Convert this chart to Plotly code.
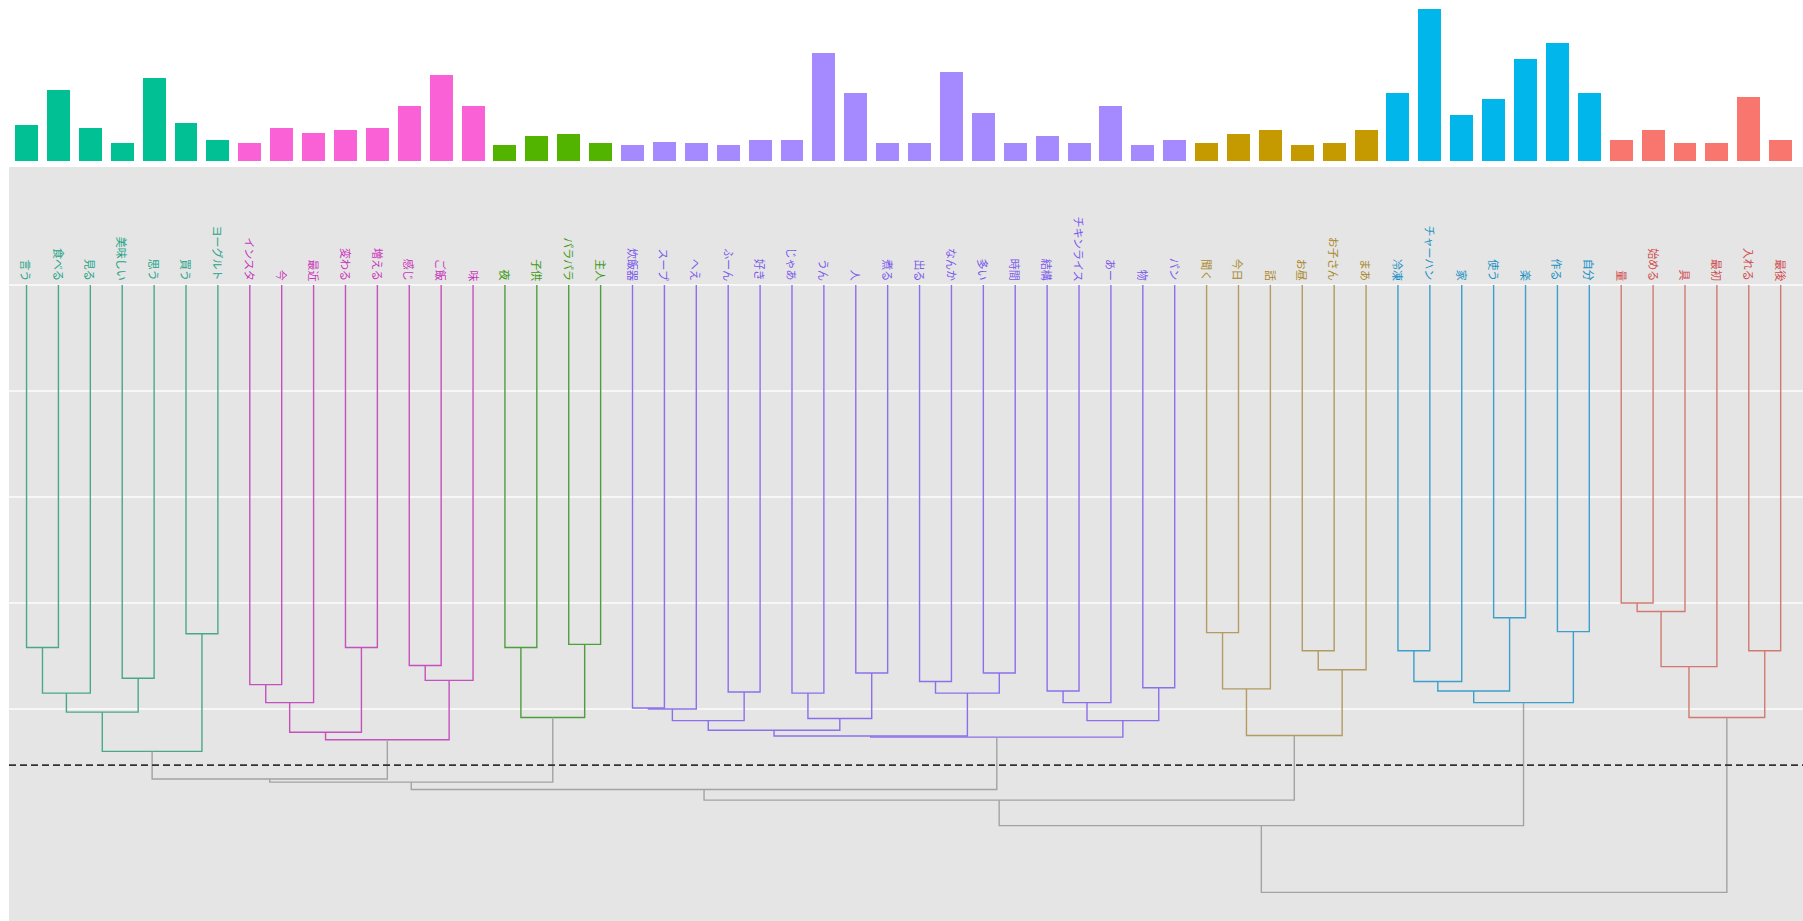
import plotly.graph_objects as go

# ---------------- data ----------------
labels = [
    "言う", "食べる", "見る", "美味しい", "思う", "買う", "ヨーグルト",
    "インスタ", "今", "最近", "変わる", "増える", "感じ", "ご飯", "味",
    "夜", "子供", "パラパラ", "主人",
    "炊飯器", "スープ", "へえ", "ふーん", "好き", "じゃあ", "うん", "人", "煮る",
    "出る", "なんか", "多い", "時間", "結構", "チキンライス", "あー", "物", "パン",
    "聞く", "今日", "話", "お昼", "お子さん", "まあ",
    "冷凍", "チャーハン", "家", "使う", "楽", "作る", "自分",
    "量", "始める", "具", "最初", "入れる", "最後",
]
counts = [
    32, 62, 29, 16, 72, 33, 19,
    16, 29, 25, 27, 29, 48, 75, 48,
    14, 22, 24, 16,
    14, 17, 16, 14, 19, 19, 94, 59, 16, 16, 78, 42, 16, 22, 16, 48, 14, 19,
    16, 24, 27, 14, 16, 27,
    59, 132, 40, 54, 89, 103, 59,
    19, 27, 16, 16, 56, 19,
]
cluster_sizes = [7, 8, 4, 18, 6, 7, 6]
bar_colors = ["#00C094", "#FB61D7", "#53B400", "#A58AFF", "#C49A00", "#00B6EB", "#F8766D"]
line_colors = ["#4aa88a", "#c451bd", "#4f9e3e", "#8c70ea", "#b39b62", "#3c9fcc", "#d27a72"]
text_colors = ["#22a486", "#c935bb", "#3c9a14", "#7a58ec", "#a8892c", "#1a92c4", "#d04c4c"]
root_color = "#a3a3a3"

# linkage: (left child, right child, height); new node ids start at len(labels)
merges = [
    (0, 1, 3.42), (56, 2, 3.85), (3, 4, 3.71), (57, 58, 4.03), (5, 6, 3.29), (59, 60, 4.40),
    (7, 8, 3.77), (62, 9, 3.94), (10, 11, 3.42), (63, 64, 4.22), (12, 13, 3.59), (66, 14, 3.73),
    (65, 67, 4.29),
    (15, 16, 3.42), (17, 18, 3.39), (69, 70, 4.08),
    (19, 20, 3.99), (72, 21, 4.00), (22, 23, 3.84), (73, 74, 4.11), (24, 25, 3.85), (26, 27, 3.66),
    (76, 77, 4.09), (75, 78, 4.20), (28, 29, 3.74), (30, 31, 3.66), (80, 81, 3.85), (79, 82, 4.255),
    (32, 33, 3.83), (84, 34, 3.94), (35, 36, 3.80), (85, 86, 4.11), (83, 87, 4.265),
    (37, 38, 3.28), (89, 39, 3.81), (40, 41, 3.45), (91, 42, 3.63), (90, 92, 4.25),
    (43, 44, 3.45), (94, 45, 3.74), (46, 47, 3.14), (95, 96, 3.83), (48, 49, 3.27), (97, 98, 3.94),
    (50, 51, 3.00), (100, 52, 3.08), (101, 53, 3.60), (54, 55, 3.45), (102, 103, 4.08),
    (61, 68, 4.66), (105, 71, 4.69), (106, 88, 4.76), (107, 93, 4.86), (108, 99, 5.10), (109, 104, 5.73),
]
cut_height = 4.53
grid_levels = [0, 1, 2, 3, 4]

# ---------------- derived ----------------
n = len(labels)
leaf_cluster = []
for ci, sz in enumerate(cluster_sizes):
    leaf_cluster += [ci] * sz

node_x = {i: float(i) for i in range(n)}
node_h = {i: 0.0 for i in range(n)}
node_cl = {i: {leaf_cluster[i]} for i in range(n)}

seg_x = {}
seg_y = {}
for k, (a, b, h) in enumerate(merges):
    nid = n + k
    node_x[nid] = (node_x[a] + node_x[b]) / 2
    node_h[nid] = h
    node_cl[nid] = node_cl[a] | node_cl[b]
    col = line_colors[next(iter(node_cl[nid]))] if len(node_cl[nid]) == 1 else root_color
    seg_x.setdefault(col, []).extend([node_x[a], node_x[a], node_x[b], node_x[b], None])
    seg_y.setdefault(col, []).extend([node_h[a], h, h, node_h[b], None])

fig = go.Figure()

fig.add_trace(go.Bar(
    x=list(range(n)), y=counts, width=0.72,
    marker=dict(color=[bar_colors[c] for c in leaf_cluster], line=dict(width=0)),
    xaxis="x", yaxis="y", showlegend=False, hoverinfo="skip",
))

for col in seg_x:
    fig.add_trace(go.Scatter(
        x=seg_x[col], y=seg_y[col], mode="lines",
        line=dict(color=col, width=1.4),
        xaxis="x2", yaxis="y2", showlegend=False, hoverinfo="skip",
    ))

annotations = []
for i, lab in enumerate(labels):
    annotations.append(dict(
        x=i, y=0, xref="x2", yref="y2", text=lab, textangle=90,
        xanchor="center", yanchor="bottom", yshift=2, showarrow=False,
        font=dict(family="Noto Sans CJK JP", size=11, color=text_colors[leaf_cluster[i]]),
    ))

xr = [-0.55, 55.7]
fig.update_layout(
    width=1803, height=921,
    margin=dict(l=9, r=0, t=0, b=0),
    paper_bgcolor="white", plot_bgcolor="white",
    bargap=0,
    xaxis=dict(domain=[0, 1], range=xr, visible=False, anchor="y"),
    yaxis=dict(domain=[0.8247, 1], range=[0, 140], visible=False, anchor="x"),
    xaxis2=dict(domain=[0, 1], range=xr, showgrid=False, zeroline=False,
                showticklabels=False, ticks="", showline=False, anchor="y2"),
    yaxis2=dict(domain=[0, 0.8187], range=[6.0, -1.113], tickvals=grid_levels,
                showgrid=True, gridcolor="#f7f7f7", gridwidth=1.5, zeroline=False,
                showticklabels=False, ticks="", showline=False, anchor="x2"),
    shapes=[
        dict(type="rect", xref="x2 domain", yref="y2 domain", x0=0, x1=1, y0=0, y1=1,
             fillcolor="#E5E5E5", line=dict(width=0), layer="below"),
        dict(type="line", xref="x2 domain", yref="y2", x0=0, x1=1, y0=cut_height, y1=cut_height,
             line=dict(color="#333333", width=1.6, dash="7px,4px"), layer="above"),
    ],
    annotations=annotations,
    font=dict(family="Noto Sans CJK JP"),
)

fig.write_html(
    "out.html",
    config={"displayModeBar": False},
    post_script="document.body.style.margin='0';document.body.style.overflow='hidden';",
)
